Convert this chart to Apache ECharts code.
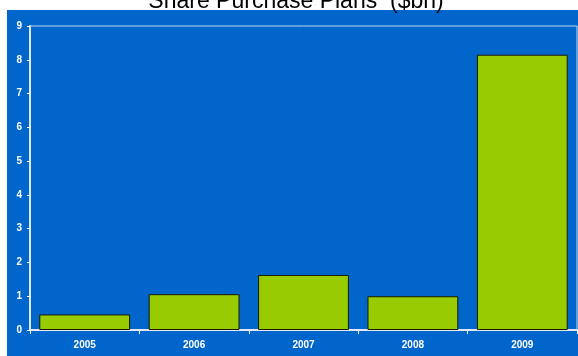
<!DOCTYPE html>
<html>
<head>
<meta charset="utf-8">
<script src="https://cdn.jsdelivr.net/npm/echarts@6/dist/echarts.min.js"></script>
<style>
  html, body { margin: 0; padding: 0; background: #fff; }
  #chart { width: 578px; height: 356px; }
</style>
</head>
<body>
<div id="chart"></div>
<script>
// share purchase plans, $bn
let years = ['2005', '2006', '2007', '2008', '2009']
let amounts = [0.46, 1.06, 1.63, 1.0, 8.15]
let yTicks = [0, 9, 1]  // min, max, step

let chart = echarts.init(document.getElementById('chart'))

let option = {
  backgroundColor: '#fff',
  animation: false,
  title: {
    text: 'Share Purchase Plans  ($bn)',
    left: 291,
    top: -15,
    textAlign: 'center',
    textStyle: {
      fontFamily: 'Liberation Sans, Arial',
      fontSize: 23,
      fontWeight: 'normal',
      color: '#000'
    }
  },
  graphic: [{
    type: 'rect',
    z: -10,
    shape: { x: 7, y: 10, width: 571, height: 346 },
    style: { fill: '#0066CC' }
  }],
  grid: {
    left: 30,
    right: 1,
    top: 26,
    bottom: 26,
    show: true,
    borderColor: '#c4d8f0',
    borderWidth: 1
  },
  xAxis: {
    type: 'category',
    data: years,
    axisLine: { lineStyle: { color: '#dfe8f4', width: 2 } },
    axisTick: { show: true, length: 4, lineStyle: { color: '#fff' } },
    axisLabel: {
      color: '#fff',
      fontFamily: 'Liberation Sans, Arial',
      fontSize: 10,
      fontWeight: 'bold',
      margin: 10
    }
  },
  yAxis: {
    type: 'value',
    min: yTicks[0],
    max: yTicks[1],
    interval: yTicks[2],
    splitLine: { show: false },
    axisLine: { show: true, lineStyle: { color: '#dfe8f4', width: 2 } },
    axisTick: { show: true, length: 3, lineStyle: { color: '#fff' } },
    axisLabel: {
      color: '#fff',
      fontFamily: 'Liberation Sans, Arial',
      fontSize: 10,
      fontWeight: 'bold',
      margin: 8
    }
  },
  series: [{
    type: 'bar',
    data: amounts,
    barCategoryGap: '17%',
    itemStyle: {
      color: '#99CC00',
      borderColor: '#1a1a00',
      borderWidth: 1
    }
  }]
}

chart.setOption(option)
</script>
</body>
</html>
